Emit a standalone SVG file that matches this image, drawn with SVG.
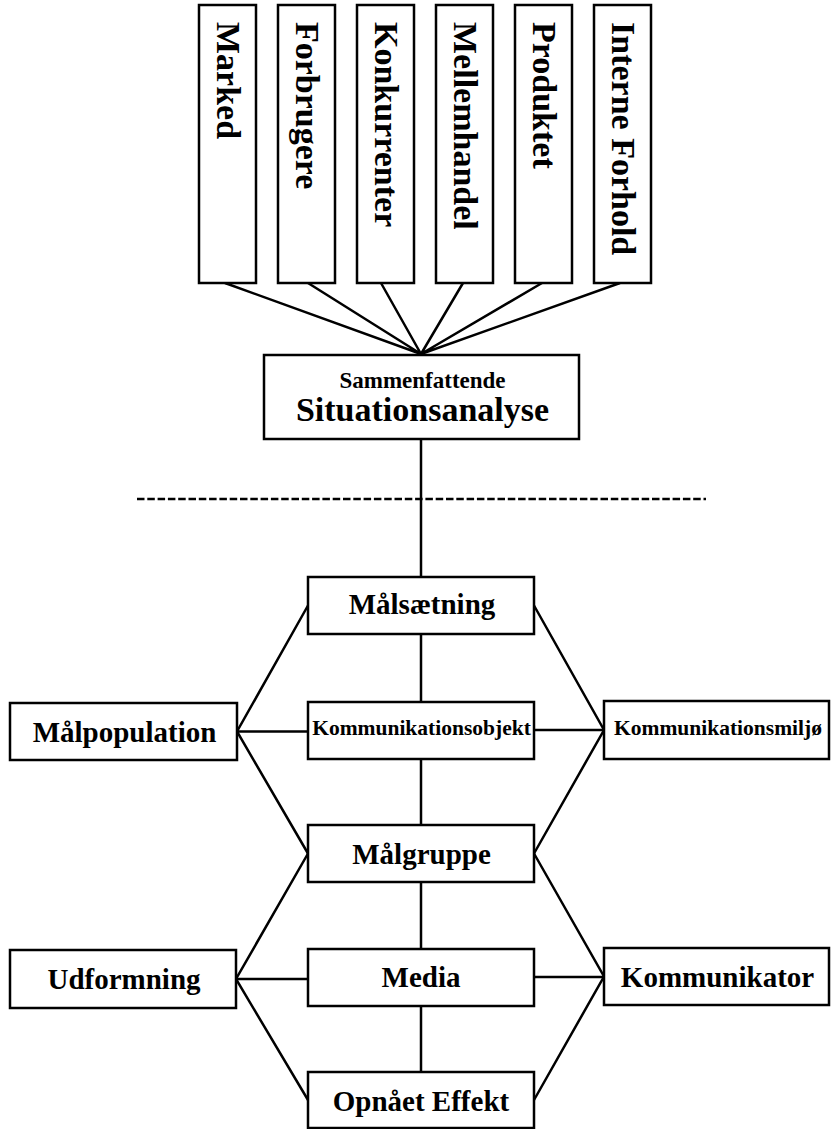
<svg xmlns="http://www.w3.org/2000/svg" width="831" height="1129" viewBox="0 0 831 1129">
<style>
.box{fill:#fff;stroke:#000;stroke-width:2.5}
.t{font-family:"Liberation Serif","Times New Roman",serif;font-weight:bold;fill:#000}
.m{text-anchor:middle;font-size:29px}
.v{font-size:34px}
.s{text-anchor:middle;font-size:21.5px}
#connectors line,#connectors path{stroke:#000;stroke-width:2.5;fill:none}
</style>
<rect width="831" height="1129" fill="#fff"/>
<g id="connectors">
<path d="M225,283 L421,354 M308,283 L421,354 M381,283 L421,354 M463,283 L421,354 M542,283 L421,354 M620,283 L421,354"/>
<line x1="421" y1="439" x2="421" y2="577"/>
<line x1="137" y1="499" x2="706" y2="499" stroke-dasharray="7.5 2.8"/>
<line x1="421" y1="634" x2="421" y2="702"/>
<line x1="421" y1="759" x2="421" y2="825"/>
<line x1="421" y1="882" x2="421" y2="949"/>
<line x1="421" y1="1006" x2="421" y2="1072"/>
<path d="M308,605.5 L237,731.5 L308,853.5"/>
<line x1="237" y1="731.5" x2="308" y2="731.5"/>
<path d="M534,605.5 L604,730 L534,853.5"/>
<line x1="534" y1="730" x2="604" y2="730"/>
<path d="M308,853.5 L236,979 L308,1100"/>
<line x1="236" y1="979" x2="308" y2="979"/>
<path d="M534,853.5 L604,976.5 L534,1100"/>
<line x1="534" y1="977" x2="604" y2="977"/>
</g>
<g id="marked"><rect class="box" x="199" y="5" width="57" height="278"/><text class="t v" transform="translate(216.5,22) rotate(90)">Marked</text></g>
<g id="forbrugere"><rect class="box" x="278" y="5" width="57" height="278"/><text class="t v" transform="translate(295.5,22) rotate(90)">Forbrugere</text></g>
<g id="konkurrenter"><rect class="box" x="357" y="5" width="57" height="278"/><text class="t v" transform="translate(374.5,22) rotate(90)">Konkurrenter</text></g>
<g id="mellemhandel"><rect class="box" x="436" y="5" width="57" height="278"/><text class="t v" transform="translate(453.5,22) rotate(90)">Mellemhandel</text></g>
<g id="produktet"><rect class="box" x="515" y="5" width="57" height="278"/><text class="t v" transform="translate(532.5,22) rotate(90)">Produktet</text></g>
<g id="interne-forhold"><rect class="box" x="594" y="5" width="57" height="278"/><text class="t v" transform="translate(611.5,22) rotate(90)">Interne Forhold</text></g>
<g id="situationsanalyse"><rect class="box" x="264" y="355" width="315" height="84"/>
<text class="t" x="422.5" y="388" text-anchor="middle" font-size="23">Sammenfattende</text>
<text class="t" x="422.5" y="421" text-anchor="middle" font-size="34">Situationsanalyse</text></g>
<g id="malsaetning"><rect class="box" x="308" y="577" width="226" height="57"/><text class="t m" x="422" y="614">Målsætning</text></g>
<g id="kommunikationsobjekt"><rect class="box" x="308" y="702" width="226" height="57"/><text class="t s" x="421.5" y="735">Kommunikationsobjekt</text></g>
<g id="malpopulation"><rect class="box" x="10" y="703" width="227" height="57"/><text class="t m" x="124.5" y="741.5">Målpopulation</text></g>
<g id="kommunikationsmiljo"><rect class="box" x="604" y="701" width="225" height="58"/><text class="t s" x="718" y="735">Kommunikationsmiljø</text></g>
<g id="malgruppe"><rect class="box" x="308" y="825" width="226" height="57"/><text class="t m" x="421.5" y="863.5">Målgruppe</text></g>
<g id="udformning"><rect class="box" x="10" y="950" width="226" height="58"/><text class="t m" x="124" y="988.5">Udformning</text></g>
<g id="media"><rect class="box" x="308" y="949" width="226" height="57"/><text class="t m" x="421" y="987">Media</text></g>
<g id="kommunikator"><rect class="box" x="604" y="948" width="225" height="57"/><text class="t m" x="717.5" y="987">Kommunikator</text></g>
<g id="opnaaet-effekt"><rect class="box" x="308" y="1072" width="226" height="56"/><text class="t m" x="421" y="1111">Opnået Effekt</text></g>
</svg>
